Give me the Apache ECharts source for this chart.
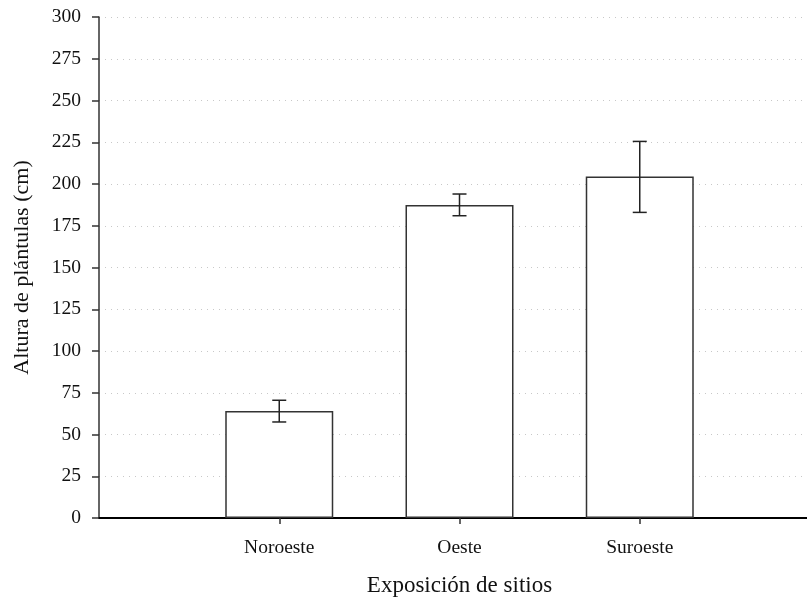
<!DOCTYPE html>
<html>
<head>
<meta charset="utf-8">
<script src="https://cdn.jsdelivr.net/npm/echarts@6/dist/echarts.min.js"></script>
<style>html,body{margin:0;padding:0;background:#fff;}#c{width:807px;height:603px;}</style>
</head>
<body>
<div id="c"></div>
<script>
var categories = ['', 'Noroeste', 'Oeste', 'Suroeste', ''];
var means = ['-', 64, 187.5, 204.5, '-'];
var errLow = [null, 57.5, 181, 183, null];
var errHigh = [null, 70.5, 194, 225.5, null];
var yTicks = { min: 0, max: 300, interval: 25 };

var chart = echarts.init(document.getElementById('c'), null, { renderer: 'canvas' });
var font = 'Liberation Serif';
var errData = [];
for (var i = 0; i < categories.length; i++) {
  if (errLow[i] != null) errData.push([i, errLow[i], errHigh[i]]);
}
chart.setOption({
  animation: false,
  backgroundColor: '#fff',
  grid: { left: 99, right: -13, top: 17, bottom: 85, containLabel: false, outerBoundsMode: 'none' },
  xAxis: {
    type: 'category',
    data: categories,
    boundaryGap: false,
    name: 'Exposición de sitios',
    nameLocation: 'middle',
    nameGap: 56,
    nameTextStyle: { fontFamily: font, fontSize: 23, color: '#111' },
    axisLine: { lineStyle: { color: '#000', width: 2 } },
    axisTick: { length: 6, lineStyle: { color: '#333', width: 1.5 },
      interval: function (idx) { return idx >= 1 && idx <= 3; } },
    axisLabel: { fontFamily: font, fontSize: 19.5, color: '#111', margin: 20,
      interval: function (idx) { return idx >= 1 && idx <= 3; } },
    splitLine: { show: false }
  },
  yAxis: {
    type: 'value',
    min: yTicks.min, max: yTicks.max, interval: yTicks.interval,
    name: 'Altura de plántulas (cm)',
    nameLocation: 'middle',
    nameGap: 66,
    nameTextStyle: { fontFamily: font, fontSize: 22, color: '#111' },
    axisLine: { show: true, lineStyle: { color: '#333', width: 1.5 } },
    axisTick: { show: true, length: 7, lineStyle: { color: '#333', width: 1.5 } },
    axisLabel: { fontFamily: font, fontSize: 19.5, color: '#111', margin: 18 },
    splitLine: { show: true, lineStyle: { color: '#c8c8c8', width: 1, type: [1, 5] } }
  },
  series: [
    {
      type: 'bar',
      data: means,
      barWidth: 108,
      itemStyle: { color: '#fff', borderColor: '#333', borderWidth: 1.5 },
      z: 2
    },
    {
      type: 'custom',
      data: errData,
      z: 3,
      renderItem: function (params, api) {
        var x = api.value(0);
        var lo = api.coord([x, api.value(1)]);
        var hi = api.coord([x, api.value(2)]);
        var cw = 7;
        var st = { stroke: '#222', lineWidth: 1.5 };
        return {
          type: 'group',
          children: [
            { type: 'line', shape: { x1: hi[0], y1: hi[1], x2: lo[0], y2: lo[1] }, style: st },
            { type: 'line', shape: { x1: hi[0] - cw, y1: hi[1], x2: hi[0] + cw, y2: hi[1] }, style: st },
            { type: 'line', shape: { x1: lo[0] - cw, y1: lo[1], x2: lo[0] + cw, y2: lo[1] }, style: st }
          ]
        };
      }
    }
  ]
});
</script>
</body>
</html>
